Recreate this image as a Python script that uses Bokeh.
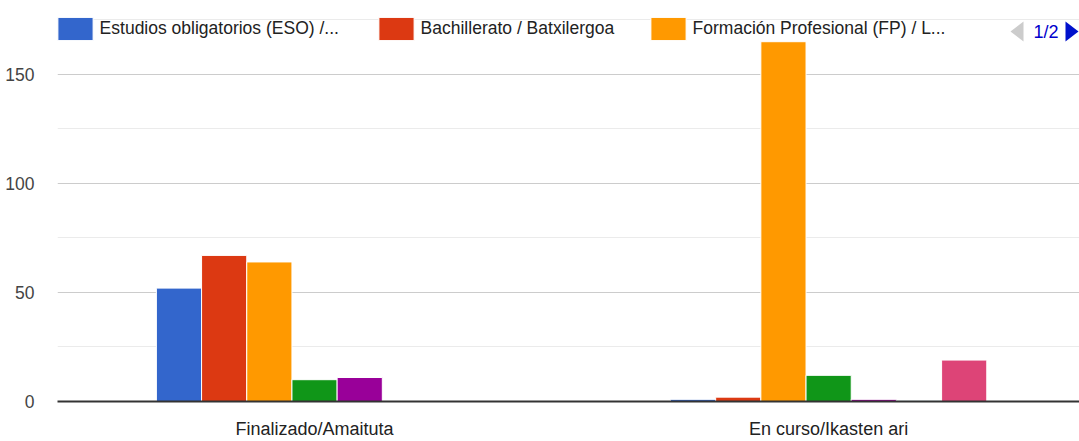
from bokeh.plotting import figure
from bokeh.models import (Range1d, FixedTicker, Legend, LegendItem, Label,
                          PolyAnnotation)
from bokeh.transform import dodge
from bokeh.embed import file_html
from bokeh.resources import INLINE

categories = ["Finalizado/Amaituta", "En curso/Ikasten ari"]
series_names = [
    "Estudios obligatorios (ESO) /...",
    "Bachillerato / Batxilergoa",
    "Formación Profesional (FP) / L...",
    "Grado universitario / Gradua",
    "Máster / Masterra",
    "Doctorado / Doktoregoa",
    "Otros / Besteak",
]
eso = [52, 1]
bachillerato = [67, 2]
fp = [64, 165]
grado = [10, 12]
master = [11, 1]
doctorado = [0, 0.5]
otros = [0, 19]
series_values = [eso, bachillerato, fp, grado, master, doctorado, otros]
colors = ["#3366cc", "#dc3912", "#ff9900", "#109618", "#990099", "#0099c6", "#dd4477"]

FONT = "Liberation Sans"

xs = [i + 0.5 for i in range(len(categories))]
data = {"x": xs}
for k, vals in enumerate(series_values):
    data[f"s{k}"] = vals

p = figure(width=1079, height=441, output_backend="svg", toolbar_location=None,
           x_range=Range1d(0, 1.988), y_range=Range1d(0, 183.9),
           min_border_left=57, min_border_right=0, min_border_top=0,
           min_border_bottom=40)
p.outline_line_color = None
p.background_fill_color = "white"
p.border_fill_color = "white"

pitch = 0.0879
n = len(series_values)
renderers = []
for k in range(n):
    off = (k - (n - 1) / 2) * pitch
    r = p.vbar(x=dodge("x", off), top=f"s{k}", width=pitch, source=data,
               fill_color=colors[k], line_color="white", line_width=1)
    renderers.append(r)

# axes
p.xaxis.ticker = FixedTicker(ticks=xs)
p.xaxis.major_label_overrides = {x: c for x, c in zip(xs, categories)}
p.xaxis.major_tick_line_color = None
p.xaxis.minor_tick_line_color = None
p.xaxis.axis_line_color = "#333333"
p.xaxis.axis_line_width = 2
p.xaxis.major_label_text_font = FONT
p.xaxis.major_label_text_font_size = "18px"
p.xaxis.major_label_text_color = "#222222"
p.xaxis.major_label_standoff = 11

p.yaxis.ticker = FixedTicker(ticks=[0, 50, 100, 150], minor_ticks=[25, 75, 125, 175])
p.yaxis.axis_line_color = None
p.yaxis.major_tick_line_color = None
p.yaxis.minor_tick_line_color = None
p.yaxis.major_label_text_font = FONT
p.yaxis.major_label_text_font_size = "17.5px"
p.yaxis.major_label_text_color = "#444444"
p.yaxis.major_label_standoff = 17

p.xgrid.grid_line_color = None
p.ygrid.grid_line_color = "#cccccc"
p.ygrid.minor_grid_line_color = "#ebebeb"

# legend (page 1 of 2: three items)
leg_x = [-4.4, 316.6, 588.6]
for k in range(3):
    lg = Legend(items=[LegendItem(label=series_names[k], renderers=[renderers[k]])],
                location=(leg_x[k], 358), orientation="horizontal",
                glyph_width=44, glyph_height=29, label_standoff=3,
                padding=0, margin=0, spacing=0,
                background_fill_alpha=0, border_line_alpha=0,
                label_text_font=FONT, label_text_font_size="17.5px",
                label_text_color="#222222")
    p.add_layout(lg, "center")

# pager
p.add_layout(PolyAnnotation(xs=[1010, 1023, 1023], ys=[31, 21, 41], xs_units="canvas",
                            ys_units="canvas", fill_color="#cccccc", line_color=None,
                            fill_alpha=1))
p.add_layout(Label(x=1033, y=31, x_units="canvas", y_units="canvas", text="1/2",
                   text_font=FONT, text_font_size="18px", text_color="#0000cc",
                   text_baseline="alphabetic"))
p.add_layout(PolyAnnotation(xs=[1065, 1078, 1065], ys=[21, 31, 41], xs_units="canvas",
                            ys_units="canvas", fill_color="#0011cc", line_color=None,
                            fill_alpha=1))

open("out.html", "w").write(file_html(p, INLINE))
